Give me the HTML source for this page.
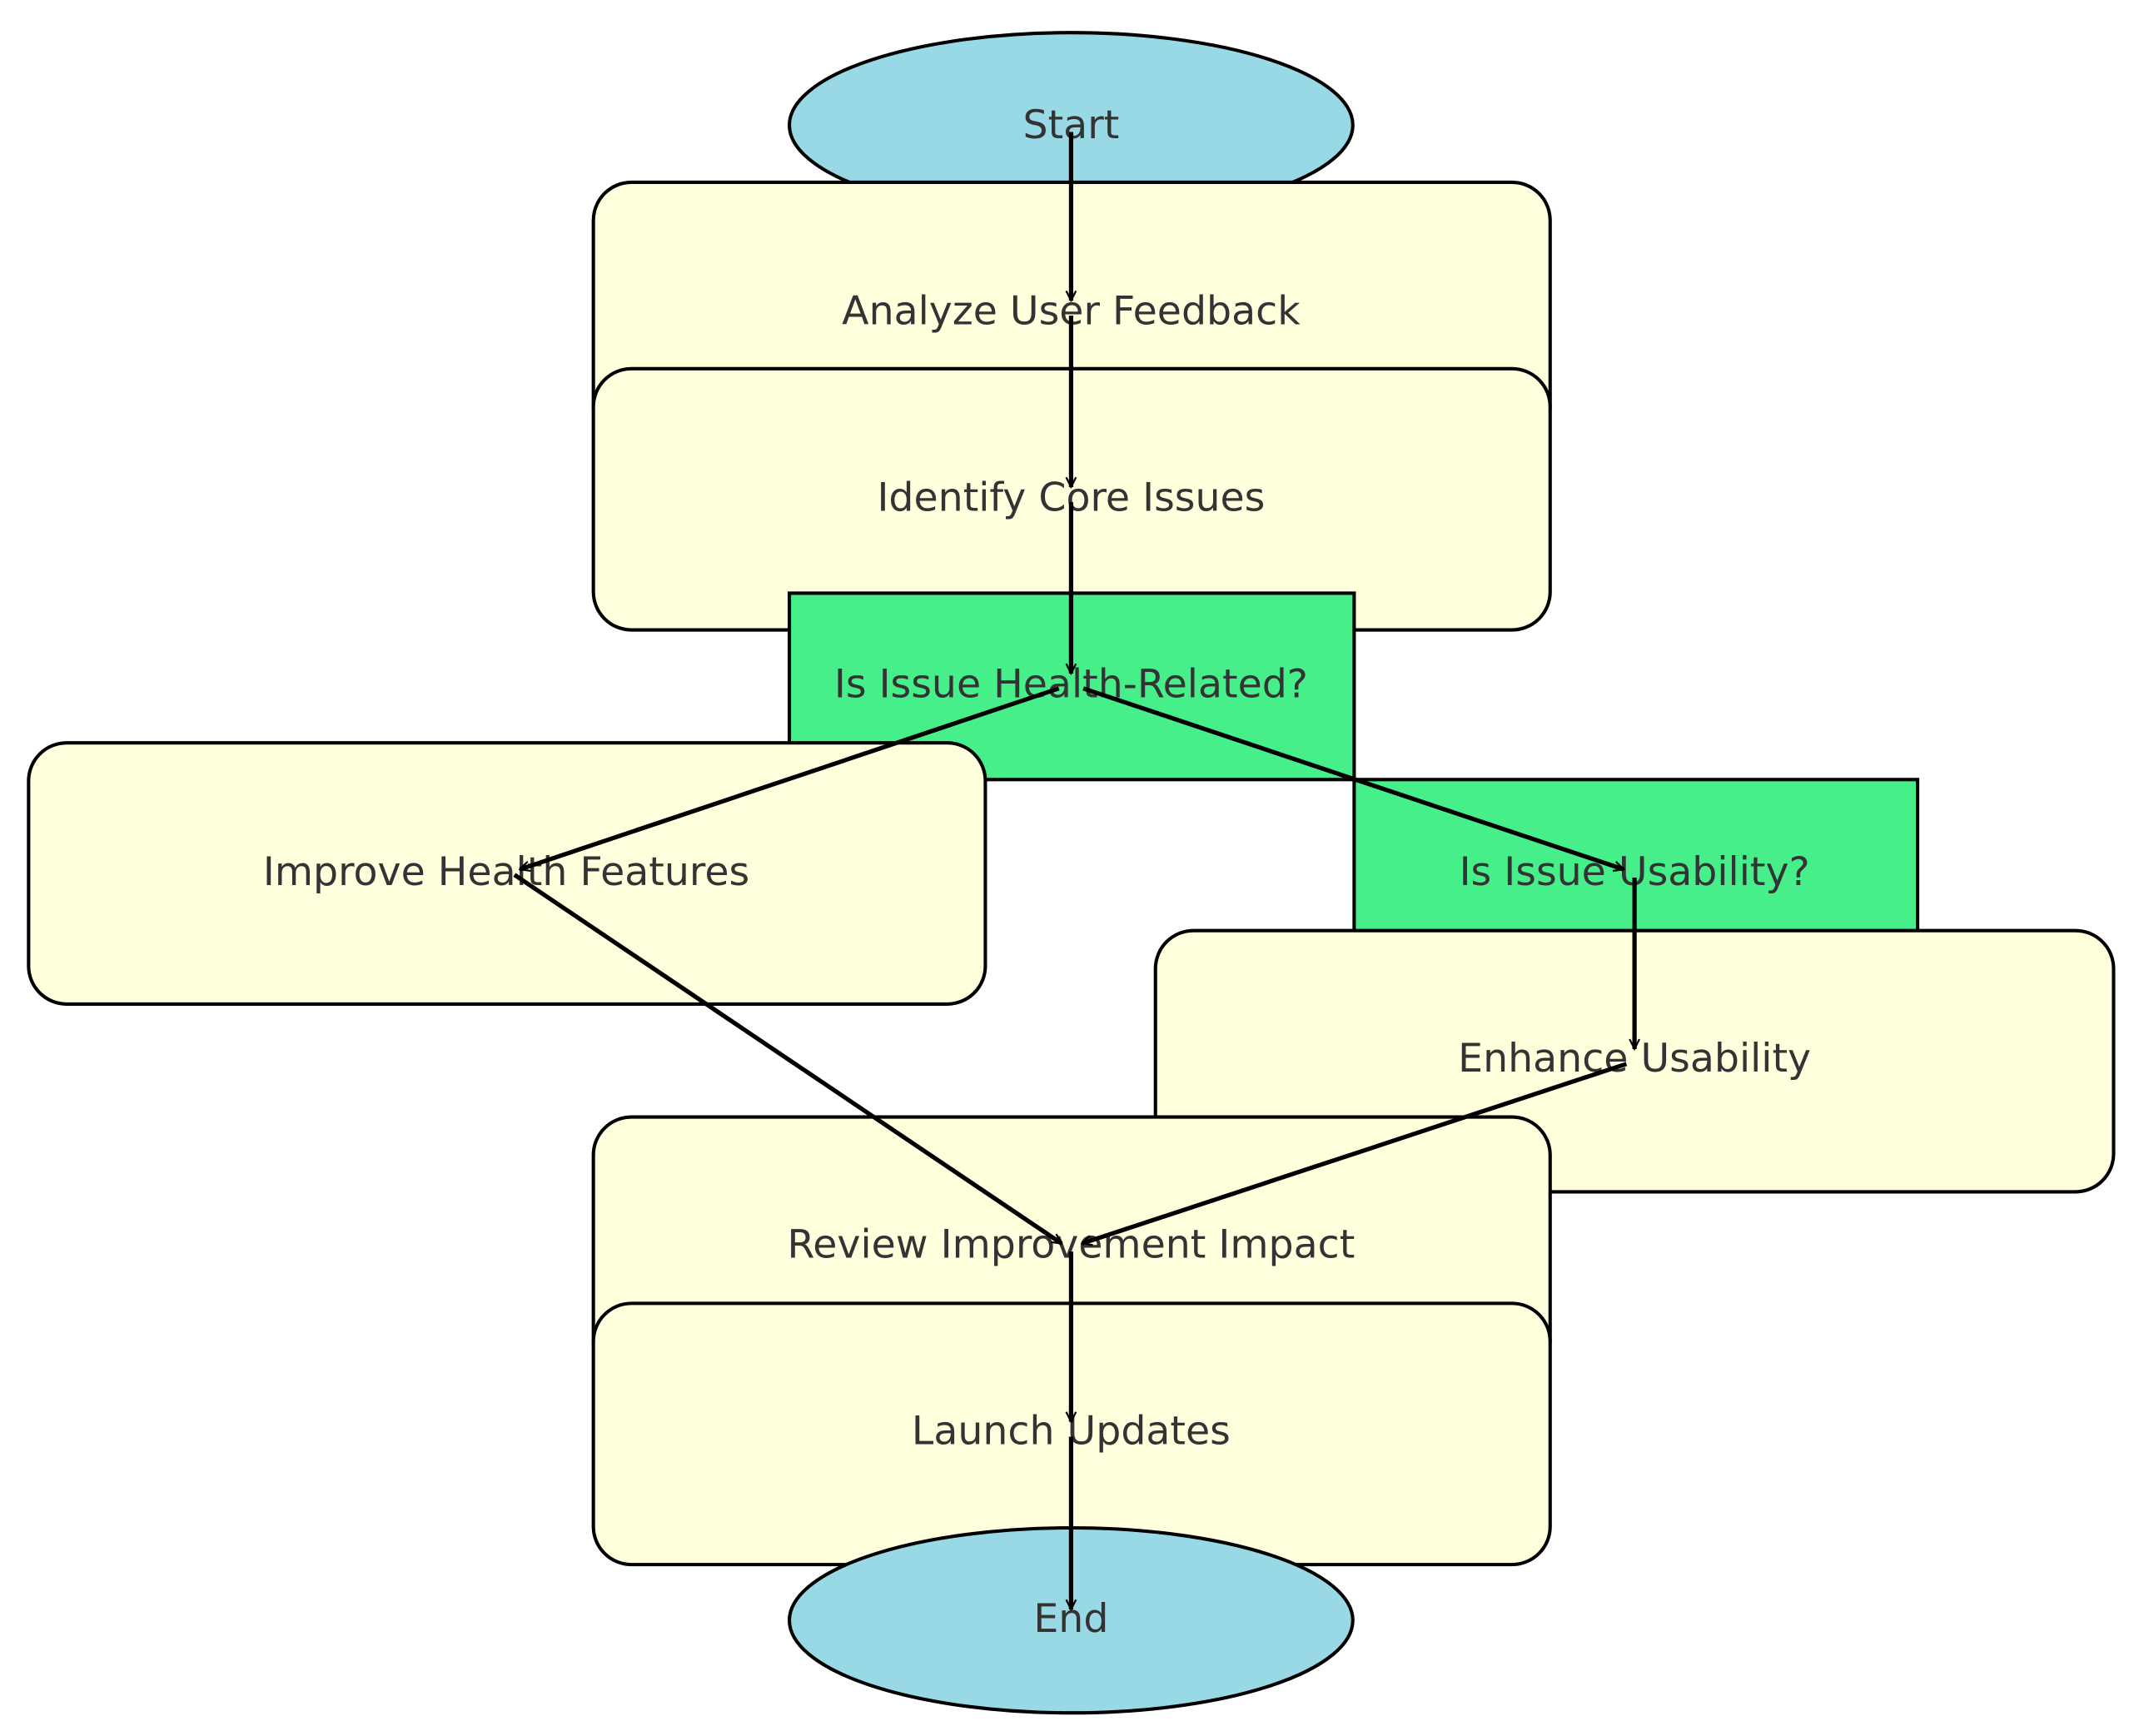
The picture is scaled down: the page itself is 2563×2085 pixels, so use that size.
<!DOCTYPE html>
<html><head><meta charset="utf-8"><style>
html,body{margin:0;padding:0;background:#fff;}
svg{display:block;}
text{font-family:"DejaVu Sans","Liberation Sans",sans-serif;font-size:29px;fill:#333;text-anchor:middle;dominant-baseline:central;}
</style></head><body>
<svg width="2563" height="2085" viewBox="0 0 1568 1276" preserveAspectRatio="none" xmlns="http://www.w3.org/2000/svg">
<defs>
<marker id="a" viewBox="0 0 20 20" refX="18" refY="10" markerWidth="9" markerHeight="9" orient="auto" markerUnits="userSpaceOnUse">
<path d="M2,2 L18,10 L2,18" fill="none" stroke="#000" stroke-width="3"/>
</marker>
</defs>
<g stroke="#000" stroke-width="2.5">
<ellipse cx="787" cy="92" rx="207" ry="68" fill="#99D9E6"/>
<rect x="436" y="134" width="703" height="192" rx="28" fill="#FFFEDD"/>
<rect x="436" y="271" width="703" height="192" rx="28" fill="#FFFEDD"/>
<rect x="580" y="436" width="415" height="137" fill="#46EF8A"/>
<rect x="21" y="546" width="703" height="192" rx="28" fill="#FFFEDD"/>
<rect x="995" y="573" width="414" height="137" fill="#46EF8A"/>
<rect x="849" y="684" width="704" height="192" rx="28" fill="#FFFEDD"/>
<rect x="436" y="821" width="703" height="192" rx="28" fill="#FFFEDD"/>
<rect x="436" y="958" width="703" height="192" rx="28" fill="#FFFEDD"/>
<ellipse cx="787" cy="1191" rx="207" ry="68" fill="#99D9E6"/>
</g>
<text x="787" y="92">Start</text>
<text x="787" y="229">Analyze User Feedback</text>
<text x="787" y="366">Identify Core Issues</text>
<text x="787" y="503">Is Issue Health-Related?</text>
<text x="372" y="641">Improve Health Features</text>
<text x="1201" y="641">Is Issue Usability?</text>
<text x="1201" y="778">Enhance Usability</text>
<text x="787" y="915">Review Improvement Impact</text>
<text x="787" y="1052">Launch Updates</text>
<text x="787" y="1190">End</text>
<g stroke="#000" stroke-width="3.2" fill="none" marker-end="url(#a)">
<line x1="787" y1="97" x2="787" y2="221"/>
<line x1="787" y1="232" x2="787" y2="358"/>
<line x1="787" y1="369" x2="787" y2="495"/>
<line x1="778" y1="506" x2="382" y2="639"/>
<line x1="796" y1="506" x2="1193" y2="639"/>
<line x1="1201" y1="645" x2="1201" y2="771"/>
<line x1="378" y1="643" x2="780" y2="914"/>
<line x1="1195" y1="782" x2="795" y2="914"/>
<line x1="787" y1="920" x2="787" y2="1045"/>
<line x1="787" y1="1056" x2="787" y2="1183"/>
</g>
</svg>
</body></html>
